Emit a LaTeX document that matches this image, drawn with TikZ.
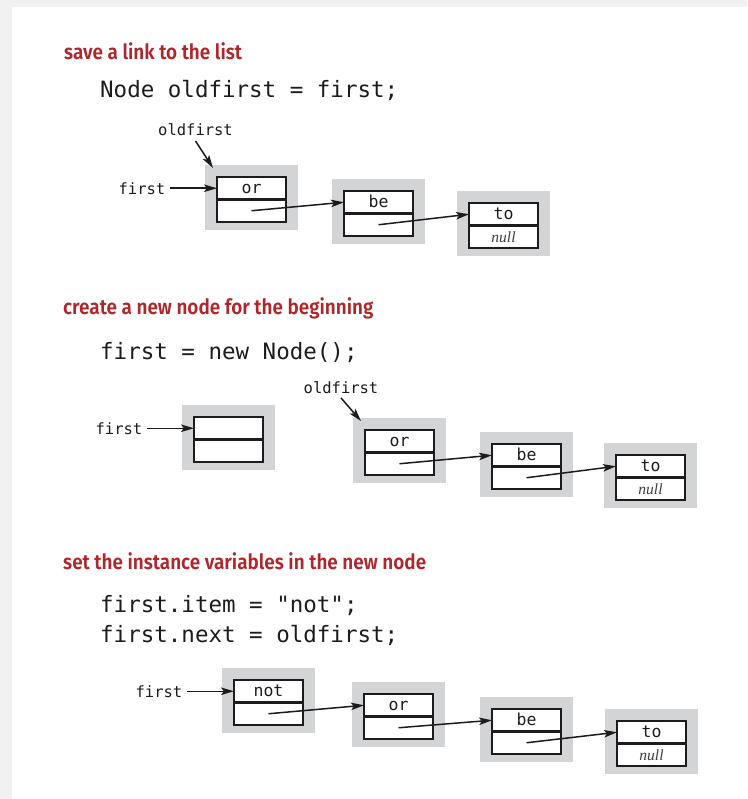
\documentclass[tikz,border=0pt]{standalone}
\usepackage{fontspec}
\setmainfont{Liberation Serif}
\newfontfamily\codefont{DejaVu Sans Mono}[Ligatures=TeXOff]
\newfontfamily\headfont{Fira Sans}[FakeStretch=0.9, BoldFont={* SemiBold}]
\usetikzlibrary{arrows.meta,calc}

\definecolor{pagegray}{HTML}{F1F1F1}
\definecolor{boxshade}{HTML}{D3D4D5}
\definecolor{headred}{HTML}{B0262B}
\definecolor{ink}{HTML}{1E1B1C}

\tikzset{
  shadowbox/.style={fill=boxshade, draw=none, minimum width=93pt, minimum height=65pt,
    inner sep=0pt, outer sep=0pt, anchor=north west},
  cell/.style={draw=ink, line width=2.6pt, fill=white, minimum width=69pt,
    minimum height=22.5pt, inner sep=0pt, outer sep=0pt, text height=11pt, text depth=0pt,
    font=\codefont\fontsize{16.5}{16.5}\selectfont, text=ink},
  ptr/.style={draw=ink, line width=1.5pt, -{Stealth[length=13pt,width=7.5pt,inset=3pt]}},
  varlabel/.style={font=\codefont\fontsize{15.5}{16}\selectfont, text=ink, inner sep=4.5pt},
  heading/.style={font=\headfont\bfseries\fontsize{21}{24}\selectfont, text=headred,
    anchor=base west, inner sep=0pt},
  code/.style={font=\codefont\fontsize{22.5}{30}\selectfont, text=ink, anchor=base west,
    inner sep=0pt},
}

% one list node: shaded backdrop, item cell on top, next cell below
\newcommand\listnode[4]{%
  \node[shadowbox] (#1-bg) at (#2) {};
  \node[cell, anchor=north west] (#1-t) at ($(#2)+(12,12)$) {#3};
  \node[cell, anchor=north] (#1-b) at (#1-t.south) {#4};
}
\newcommand\nullref{\textcolor{ink!85}{\rmfamily\itshape\fontsize{15.5}{15.5}\selectfont null}}

\begin{document}
\begin{tikzpicture}[x=1pt,y=-1pt]
  \useasboundingbox (0,0) rectangle (747,799);
  \fill[pagegray] (0,0) rectangle (747,799);
  \fill[white] (12,7) rectangle (747,799);

  % --- save a link to the list
  \node[heading] (h1) at (64,59.5) {save a link to the list};
  \node[code] (c1) at (100,98) {Node oldfirst = first;};

  \listnode{or1}{205,165}{or}{}
  \listnode{be1}{332,179}{be}{}
  \listnode{to1}{457,191}{to}{\nullref}
  \draw[ptr] (or1-b.center) -- (be1-t.west);
  \draw[ptr] (be1-b.center) -- (to1-t.west);

  \node[varlabel, anchor=east] (first1) at ($(or1-t.west)+(-47,0)$) {first};
  \draw[ptr] (first1) -- (or1-t);
  \node[varlabel, anchor=base] (old1) at (195.5,136) {oldfirst};
  \coordinate (old1tip) at ($(or1-t.north west)+(-4,-9)$);
  \draw[ptr] (old1.south) -- (old1tip);

  % --- create a new node for the beginning
  \node[heading] (h2) at (63,314) {create a new node for the beginning};
  \node[code] (c2) at (100,359) {first = new Node();};

  \listnode{nw2}{182,405}{}{}
  \listnode{or2}{353,418}{or}{}
  \listnode{be2}{480,432}{be}{}
  \listnode{to2}{604,443}{to}{\nullref}
  \draw[ptr] (or2-b.center) -- (be2-t.west);
  \draw[ptr] (be2-b.center) -- (to2-t.west);

  \node[varlabel, anchor=east] (first2) at ($(nw2-t.west)+(-47,0)$) {first};
  \draw[ptr] (first2) -- (nw2-t);
  \node[varlabel, anchor=base] (old2) at (341,393) {oldfirst};
  \coordinate (old2tip) at ($(or2-t.north west)+(-4,-9)$);
  \draw[ptr] (old2.south) -- (old2tip);

  % --- set the instance variables in the new node
  \node[heading] (h3) at (63,569) {set the instance variables in the new node};
  \node[code] (c3a) at (100,612) {first.item = "not";};
  \node[code] (c3b) at (100,642) {first.next = oldfirst;};

  \listnode{not3}{222,668}{not}{}
  \listnode{or3}{352,682}{or}{}
  \listnode{be3}{480,697}{be}{}
  \listnode{to3}{605,709}{to}{\nullref}
  \draw[ptr] (not3-b.center) -- (or3-t.west);
  \draw[ptr] (or3-b.center) -- (be3-t.west);
  \draw[ptr] (be3-b.center) -- (to3-t.west);

  \node[varlabel, anchor=east] (first3) at ($(not3-t.west)+(-47,0)$) {first};
  \draw[ptr] (first3) -- (not3-t);
\end{tikzpicture}
\end{document}
